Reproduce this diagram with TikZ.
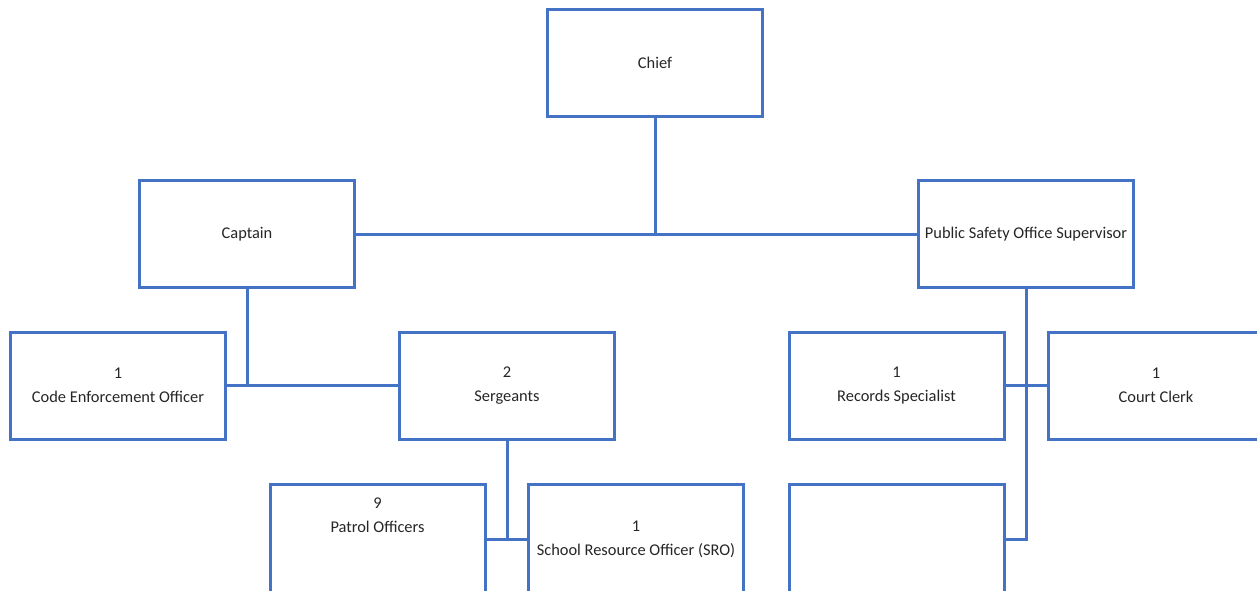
\documentclass[tikz,border=0pt]{standalone}
\usepackage{fontspec}
\setmainfont{Carlito}
\usepackage{tikz}
\usetikzlibrary{calc}
\definecolor{orgblue}{HTML}{4472C4}

\begin{document}
\begin{tikzpicture}[x=0.5pt, y=-0.5pt,
    post/.style={draw=orgblue, line width=1.5pt, fill=white, minimum width=107.5pt,
                 minimum height=53.5pt, align=center, text=black!85,
                 font=\fontsize{8.2}{12}\selectfont, inner sep=0pt},
    lowpost/.style={post, minimum height=55pt},
    link/.style={draw=orgblue, line width=1.5pt}]
            \useasboundingbox (0,0) rectangle (1257,590);
            \clip (0,0) rectangle (1257,590);
            \node[post] (chief) at (655,62.5) {Chief};
            \node[post] (captain) at (247,234) {Captain};
            \node[post] (psos) at (1026,234) {Public Safety Office Supervisor};
            \node[post] (ceo) at (118,385.5) {1\\Code Enforcement Officer};
            \node[post] (sgt) at (507,385.5) {2\\Sergeants};
            \node[post] (rec) at (896.5,385.5) {1\\Records Specialist};
            \node[post] (clerk) at (1156,385.5) {1\\Court Clerk};
            \node[lowpost, label={[anchor=north, align=center, text=black!85,
                 font=\fontsize{8.2}{12}\selectfont, yshift=-4pt]north:9\\Patrol Officers}]
                 (patrol) at (377.5,539) {};
            \node[lowpost] (sro) at (636,539) {1\\School Resource Officer (SRO)};
            \node[lowpost] (spare) at (896.5,539) {};
            \draw[link] (chief.south) -- (chief.south |- captain.east);
            \draw[link] (captain.east) -- (psos.west);
            \draw[link] (captain.south) -- (captain.south |- ceo.east);
            \draw[link] (ceo.east) -- (sgt.west);
            \draw[link] (sgt.south) -- (sgt.south |- patrol.east);
            \draw[link] (patrol.east) -- (sro.west);
            \draw[link] (rec.east) -- (clerk.west);
            \draw[link] (psos.south) -- (psos.south |- spare.east) -- (spare.east);
\end{tikzpicture}
\end{document}
